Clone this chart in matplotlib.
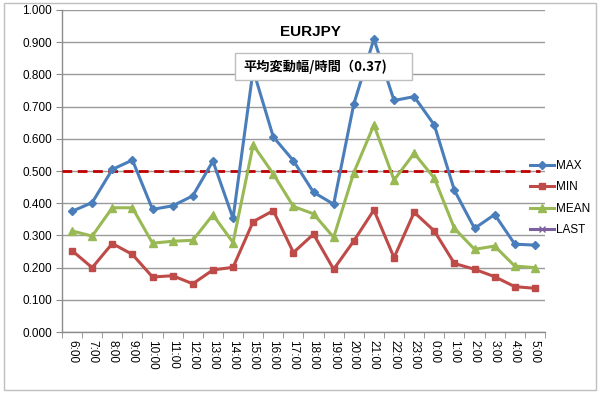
import numpy as np
import matplotlib
matplotlib.use('Agg')
import matplotlib.pyplot as plt
from matplotlib.patches import Rectangle

plt.rcParams['font.family'] = ['Liberation Sans', 'Noto Sans CJK JP', 'DejaVu Sans']

# ---- data ----
hours = ["6:00", "7:00", "8:00", "9:00", "10:00", "11:00", "12:00", "13:00",
         "14:00", "15:00", "16:00", "17:00", "18:00", "19:00", "20:00", "21:00",
         "22:00", "23:00", "0:00", "1:00", "2:00", "3:00", "4:00", "5:00"]
max_vals = [0.375, 0.402, 0.505, 0.534, 0.381, 0.392, 0.423, 0.531,
            0.353, 0.814, 0.606, 0.532, 0.434, 0.397, 0.708, 0.910,
            0.719, 0.731, 0.643, 0.440, 0.322, 0.365, 0.273, 0.270]
min_vals = [0.253, 0.200, 0.275, 0.241, 0.171, 0.175, 0.150, 0.193,
            0.201, 0.343, 0.377, 0.247, 0.304, 0.195, 0.283, 0.379,
            0.231, 0.372, 0.314, 0.213, 0.195, 0.172, 0.141, 0.136]
mean_vals = [0.314, 0.298, 0.386, 0.386, 0.276, 0.282, 0.285, 0.364,
             0.278, 0.581, 0.491, 0.390, 0.367, 0.294, 0.495, 0.643,
             0.472, 0.555, 0.478, 0.322, 0.257, 0.267, 0.205, 0.200]
last_vals = [np.nan] * len(hours)
threshold = 0.5
avg_label = "平均変動幅/時間（0.37)"

W, H = 600, 393

# ---- figure ----
fig = plt.figure(figsize=(6, 3.93), dpi=100)
ax = fig.add_axes([0.1033, 0.155, 0.805, 0.8196])

x = np.arange(len(hours))
ax.plot(x, max_vals, color='#4A7EBB', lw=2.2, marker='D', ms=4.5, label='MAX', zorder=4)
ax.plot(x, min_vals, color='#BE4B48', lw=2.2, marker='s', ms=5, label='MIN', zorder=4)
ax.plot(x, mean_vals, color='#98B954', lw=2.2, marker='^', ms=5.5, label='MEAN', zorder=4)
ax.plot(x, last_vals, color='#7D60A0', lw=2.2, marker='x', ms=5, label='LAST', zorder=4)
ax.axhline(threshold, xmin=0, xmax=0.99, color='#C00000', lw=2.0, ls=(0, (3.5, 2)), zorder=3)

ax.set_xlim(-0.5, len(hours) - 0.5)
ax.set_ylim(0, 1.0)
ax.set_yticks(np.arange(0, 1.01, 0.1))
ax.set_yticklabels([f"{v:.3f}" for v in np.arange(0, 1.01, 0.1)], fontsize=8.5)
ax.yaxis.grid(True, color='#9A9A9A', lw=1.0)
ax.set_axisbelow(True)

ax.set_xticks(x)
ax.set_xticklabels(hours, rotation=270, fontsize=8.5, va='top', ha='center')
ax.set_xticks(np.arange(-0.5, len(hours)), minor=True)
ax.tick_params(axis='x', which='major', length=0, pad=6)
ax.tick_params(axis='x', which='minor', length=4, color='#8C8C8C', direction='out')
ax.tick_params(axis='y', length=4, color='#8C8C8C', direction='out', pad=3)

for s in ['top', 'right']:
    ax.spines[s].set_visible(False)
for s in ['left', 'bottom']:
    ax.spines[s].set_color('#8C8C8C')
    ax.spines[s].set_linewidth(1.0)

# title and average box (box covers the series lines)
fig.text(310 / W, 1 - 32 / H, "EURJPY", fontsize=11, fontweight='bold', ha='center', va='center')
ax.add_patch(Rectangle((235 / W, 1 - 79.5 / H), 177 / W, 27 / H, transform=fig.transFigure,
                       fc='white', ec='#BFBFBF', lw=1.0, zorder=6, clip_on=False))
ax.text(243 / W, 1 - 67 / H, avg_label, transform=fig.transFigure, fontsize=9.5,
        fontweight='bold', ha='left', va='center',
        family=['Noto Sans CJK JP', 'DejaVu Sans'], zorder=7)

fig.legend(loc='upper left', bbox_to_anchor=(530 / W, 1 - 160 / H), frameon=False, fontsize=8.5,
           handlelength=2.0, handletextpad=0.2, labelspacing=0.8, borderaxespad=0,
           borderpad=0)

fig.patches.append(Rectangle((0.006, 0.008), 0.988, 0.985, transform=fig.transFigure,
                             fill=False, ec='#BFBFBF', lw=1.0))

fig.savefig('out.png', dpi=100)
